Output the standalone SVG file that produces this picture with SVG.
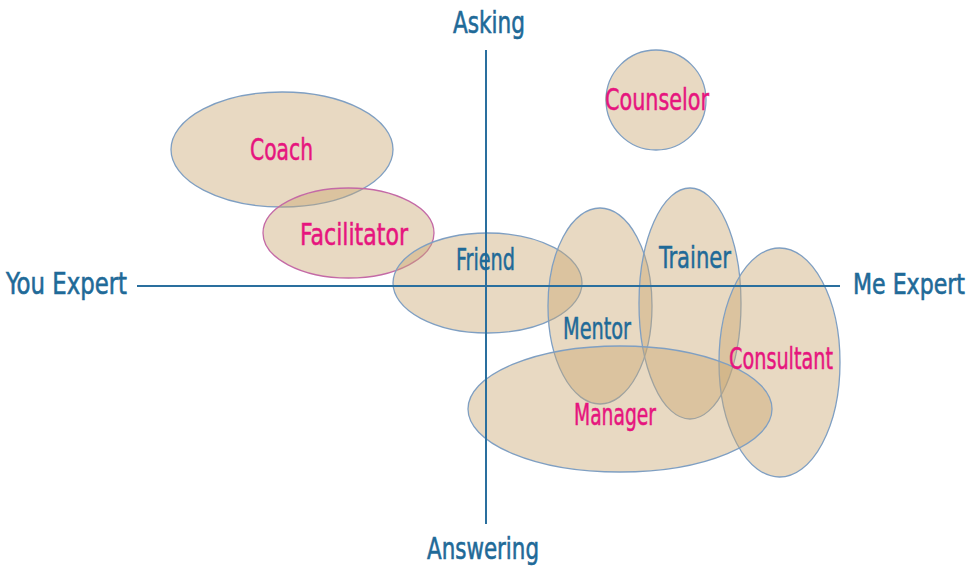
<svg xmlns="http://www.w3.org/2000/svg" width="973" height="568" viewBox="0 0 973 568">
  <style>
    .blob { fill: #c9a872; fill-opacity: 0.43; stroke: #7f9fc2; stroke-width: 1.3; }
    .blob.pink { stroke: #c46aa6; }
    .axis { stroke: #2a6f9e; stroke-width: 2; fill: none; }
    text { font-family: "Liberation Sans Narrow", "DejaVu Sans Condensed", "Open Sans", sans-serif; font-stretch: condensed; font-size: 30px; stroke-width: 0.5; }
    .lbl-blue { fill: #1f6a98; stroke: #1f6a98; }
    .lbl-pink { fill: #e6157e; stroke: #e6157e; }
    .axis-lbl { fill: #1f6a98; stroke: #1f6a98; stroke-width: 0.6; font-size: 31px; }
    .axis-lbl.tight { font-size: 29px; }
  </style>

  <!-- role regions -->
  <g id="coach">
    <ellipse class="blob" cx="282" cy="149.5" rx="111" ry="57.5"/>
  </g>
  <g id="facilitator">
    <ellipse class="blob pink" cx="348.5" cy="233" rx="85.5" ry="45"/>
  </g>
  <g id="friend">
    <ellipse class="blob" cx="487.5" cy="283" rx="94.5" ry="50"/>
  </g>
  <g id="counselor">
    <circle class="blob" cx="656" cy="100" r="50"/>
  </g>
  <g id="mentor">
    <ellipse class="blob" cx="600" cy="306" rx="52" ry="98"/>
  </g>
  <g id="trainer">
    <ellipse class="blob" cx="690" cy="303.5" rx="51" ry="115.5"/>
  </g>
  <g id="consultant">
    <ellipse class="blob" cx="779.5" cy="362.5" rx="60.5" ry="114.5"/>
  </g>
  <g id="manager">
    <ellipse class="blob" cx="620" cy="409" rx="152" ry="63"/>
  </g>

  <!-- axes -->
  <g id="connectors">
    <line class="axis" x1="486" y1="50" x2="486" y2="524"/>
    <line class="axis" x1="137" y1="286" x2="840" y2="286"/>
  </g>

  <!-- axis labels -->
  <g id="axis-labels">
    <text class="axis-lbl" x="453" y="33" textLength="72" lengthAdjust="spacingAndGlyphs">Asking</text>
    <text class="axis-lbl" x="427" y="559" textLength="112" lengthAdjust="spacingAndGlyphs">Answering</text>
    <text class="axis-lbl" x="6" y="294" textLength="121" lengthAdjust="spacingAndGlyphs">You Expert</text>
    <text class="axis-lbl tight" x="853" y="294" textLength="112" lengthAdjust="spacingAndGlyphs">Me Expert</text>
  </g>

  <!-- role labels -->
  <g id="labels">
    <text class="lbl-pink" x="250" y="160" textLength="63" lengthAdjust="spacingAndGlyphs">Coach</text>
    <text class="lbl-pink" x="300" y="245" textLength="108" lengthAdjust="spacingAndGlyphs">Facilitator</text>
    <text class="lbl-blue" x="456" y="270" textLength="59" lengthAdjust="spacingAndGlyphs">Friend</text>
    <text class="lbl-pink" x="605" y="110" textLength="104" lengthAdjust="spacingAndGlyphs">Counselor</text>
    <text class="lbl-blue" x="659" y="268" textLength="72" lengthAdjust="spacingAndGlyphs">Trainer</text>
    <text class="lbl-blue" x="563" y="339" textLength="68" lengthAdjust="spacingAndGlyphs">Mentor</text>
    <text class="lbl-pink" x="729" y="369" textLength="104" lengthAdjust="spacingAndGlyphs">Consultant</text>
    <text class="lbl-pink" x="574" y="425" textLength="82" lengthAdjust="spacingAndGlyphs">Manager</text>
  </g>
</svg>
